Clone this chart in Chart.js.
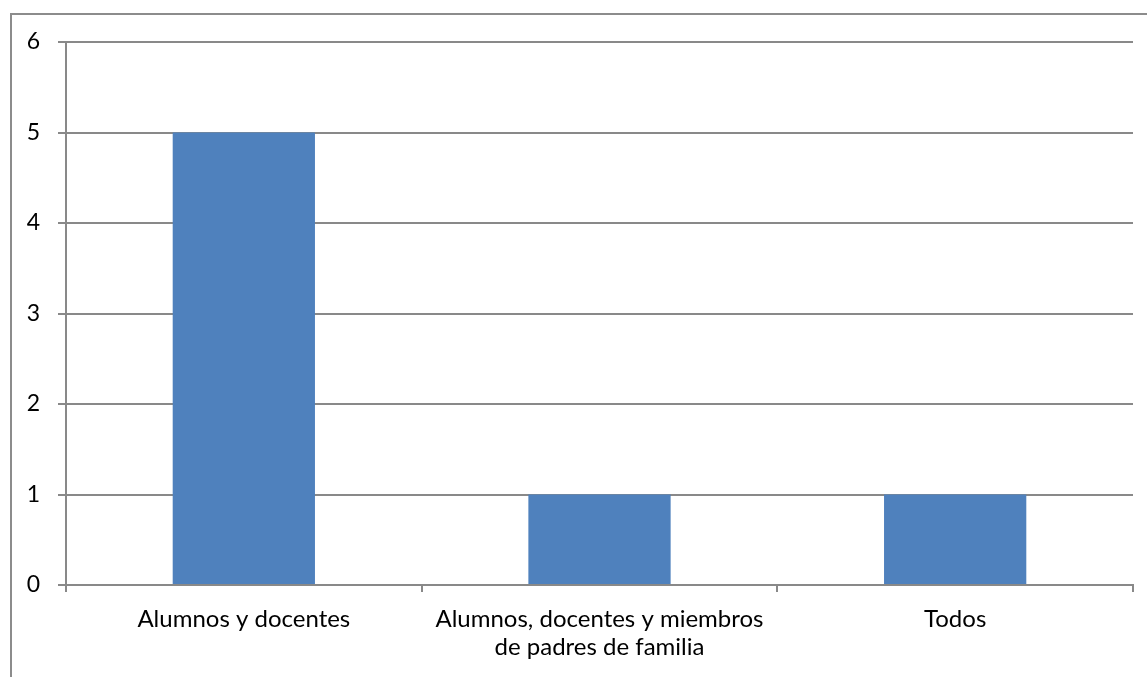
<!DOCTYPE html>
<html>
<head>
<meta charset="utf-8">
<script src="https://cdn.jsdelivr.net/npm/chart.js"></script>
<style>
  html, body { margin: 0; padding: 0; background: #fff; overflow: hidden; }
  #wrap { position: relative; width: 1147px; height: 677px; }
  #frame {
    position: absolute; left: 10px; top: 13px; width: 1200px; height: 700px;
    border-left: 2px solid #8c8c8c; border-top: 2px solid #8c8c8c; box-sizing: border-box;
  }
  canvas { position: absolute; left: 0; top: 0; }
</style>
</head>
<body>
<div id="wrap">
  <div id="frame"></div>
  <canvas id="chart" width="1147" height="677"></canvas>
</div>
<script>
// categories + values
const categories = [
  "Alumnos y docentes",
  ["Alumnos, docentes y miembros", "de padres de familia"],
  "Todos",
];
const values = [5, 1, 1];
const yTicks = [0, 1, 2, 3, 4, 5, 6];

const gridGray = "#898989";
const barBlue = "#4F81BD";

new Chart(document.getElementById("chart"), {
  type: "bar",
  data: {
    labels: categories,
    datasets: [{
      data: values,
      backgroundColor: barBlue,
      borderWidth: 0,
      barPercentage: 0.4,
      categoryPercentage: 1,
    }],
  },
  options: {
    responsive: false,
    animation: false,
    layout: { padding: { left: 0, right: 14, top: 42, bottom: 0 } },
    plugins: { legend: { display: false }, tooltip: { enabled: false } },
    scales: {
      x: {
        grid: {
          offset: true,
          drawOnChartArea: false,
          drawTicks: true,
          tickLength: 7,
          color: gridGray,
          lineWidth: 2,
        },
        border: { display: true, color: gridGray, width: 2 },
        ticks: {
          color: "#000",
          font: { family: "Lato", size: 24, lineHeight: 1.17 },
          padding: 13,
          maxRotation: 0,
          autoSkip: false,
        },
        afterFit: (s) => { s.height = 92; },
      },
      y: {
        min: 0,
        max: 6,
        afterBuildTicks: (s) => { s.ticks = yTicks.map((v) => ({ value: v })); },
        grid: {
          color: gridGray,
          lineWidth: 2,
          tickLength: 8,
        },
        border: { display: true, color: gridGray, width: 2 },
        ticks: {
          color: "#000",
          font: { family: "Lato", size: 23 },
          padding: 18,
        },
        afterFit: (s) => { s.width = 66; },
      },
    },
  },
});
</script>
</body>
</html>
